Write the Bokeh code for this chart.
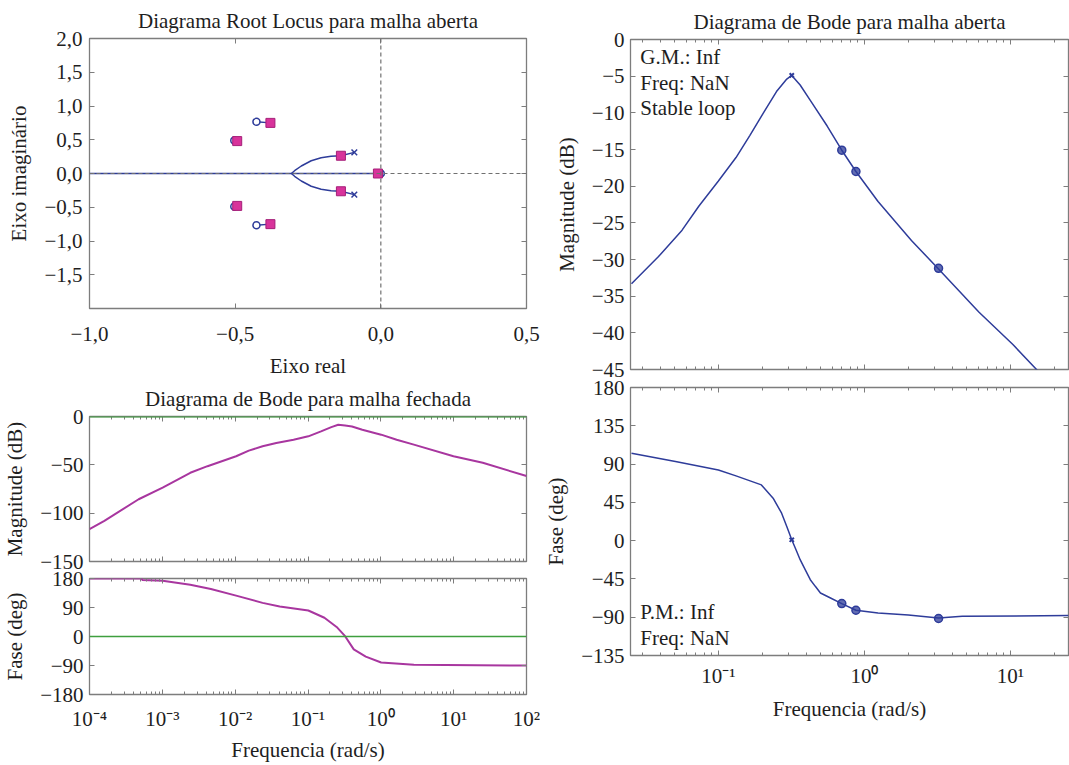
import numpy as np
from bokeh.plotting import figure
from bokeh.layouts import row, column
from bokeh.models import (FixedTicker, CustomJSTickFormatter, BasicTickFormatter,
                          CustomLabelingPolicy, LinearAxis, LogAxis, Span, Label)
from bokeh.embed import file_html
from bokeh.resources import INLINE

FONT = "Liberation Serif"
TXT = "#1e1e1e"
FRAME = "#7d7d7d"
BLUE = "#2e3c9a"
PINK = "#d8339b"
PINK_EDGE = "#a51f78"
CLOSED = "#a8369f"
GREEN = "#3f9f3f"
FS = "21px"

# ---------------- Root locus (open loop) ----------------
# upper complex branch, from the open-loop pole towards the break-in point
locus_re = [-0.091, -0.137, -0.171, -0.205, -0.239, -0.273, -0.296, -0.307]
locus_im = [0.313, 0.263, 0.254, 0.233, 0.189, 0.111, 0.041, 0.0]
# real-axis branch
real_branch_re = [-1.0, -0.307, 0.0]
real_branch_im = [0.0, 0.0, 0.0]
# open-loop poles (x) and zeros (o)
pole_re = [-0.091, -0.091]
pole_im = [0.313, -0.313]
zero_re = [-0.427, -0.427, -0.503, -0.503, 0.0]
zero_im = [0.765, -0.765, 0.49, -0.49, 0.0]
# closed-loop poles (squares)
cl_pole_re = [-0.137, -0.137, -0.379, -0.379, -0.493, -0.493, -0.01]
cl_pole_im = [0.263, -0.263, 0.75, -0.75, 0.48, -0.48, 0.0]
rl_xticks = [-1.0, -0.5, 0.0, 0.5]
rl_yticks = [-1.5, -1.0, -0.5, 0.0, 0.5, 1.0, 1.5, 2.0]

# ---------------- Open-loop Bode ----------------
ol_w = [0.0254, 0.0389, 0.0564, 0.0736, 0.100, 0.132, 0.164, 0.202, 0.250, 0.294,
        0.318, 0.363, 0.426, 0.556, 0.700, 0.875, 1.24, 2.10, 3.22, 6.10, 10.4, 15.1, 17.0]
ol_mag = [-33.3, -29.6, -26.0, -22.7, -19.3, -16.1, -13.1, -10.1, -7.1, -5.4,
          -4.9, -6.2, -8.3, -11.8, -15.1, -18.0, -22.1, -27.4, -31.3, -37.2, -41.6, -45.0, -46.2]
ol_pw = [0.0254, 0.0508, 0.1, 0.132, 0.197, 0.237, 0.271, 0.294, 0.318, 0.344, 0.363,
         0.393, 0.426, 0.461, 0.500, 0.586, 0.700, 0.875, 1.24, 2.0, 3.22, 4.68, 25.0]
ol_phase = [102.6, 92.9, 83.1, 76.1, 65.5, 49.9, 32.3, 16.7, 1.0, -12.7, -22.4,
            -34.1, -45.9, -53.7, -61.5, -67.4, -74.0, -81.8, -85.0, -87.5, -90.8, -88.9, -88.1]
# highlighted points on the open-loop response
peak_w, peak_mag, peak_phase = [0.318], [-4.9], [1.0]
dot_w = [0.700, 0.875, 3.22]
dot_mag = [-15.1, -18.0, -31.2]
dot_phase = [-74.0, -81.8, -91.5]
ol_mag_ticks = [0, -5, -10, -15, -20, -25, -30, -35, -40, -45]
ol_phase_ticks = [180, 135, 90, 45, 0, -45, -90, -135]
ol_decades = [-1, 0, 1]

# ---------------- Closed-loop Bode ----------------
cl_w = [1e-4, 1.6e-4, 4.73e-4, 1.01e-3, 2.42e-3, 4.17e-3, 1.03e-2, 0.0154, 0.0238,
        0.0367, 0.0633, 0.101, 0.151, 0.209, 0.260, 0.323, 0.402, 0.557, 1.01, 1.65,
        2.84, 9.95, 25.1, 100.0]
cl_mag = [-116.4, -107.9, -85.6, -73.6, -58.2, -51.4, -41.1, -35.3, -30.8,
          -27.4, -24.0, -20.5, -15.4, -11.0, -8.6, -9.2, -10.3, -13.7, -18.8, -24.0,
          -29.1, -41.1, -47.9, -61.6]
cl_pw = [1e-4, 5.2e-4, 5.3e-4, 1.01e-3, 2.42e-3, 4.64e-3, 1.03e-2, 0.0238, 0.0409,
         0.101, 0.168, 0.247, 0.323, 0.425, 0.621, 1.01, 2.84, 100.0]
cl_phase = [180.0, 180.0, 175.5, 172.8, 160.6, 147.3, 126.8, 104.3, 93.1,
            80.8, 58.3, 29.7, 1.0, -39.9, -62.4, -80.8, -88.0, -90.0]
cl_mag_ticks = [0, -50, -100, -150]
cl_phase_ticks = [180, 90, 0, -90, -180]
cl_decades = [-4, -3, -2, -1, 0, 1, 2]


def num_fmt():
    return CustomJSTickFormatter(code="""
        const a = Math.abs(tick);
        return (tick < 0 ? '\\u2212' : '') + String(a);
    """)


def comma_fmt():
    return CustomJSTickFormatter(code="""
        const s = Math.abs(tick).toFixed(1).replace('.', ',');
        return (tick < -1e-9 ? '\\u2212' : '') + s;
    """)


def log_fmt():
    return CustomJSTickFormatter(code="""
        const e = Math.round(Math.log10(tick));
        const m = {'-': '\\u207b', '0': '\\u2070', '1': '\\u00b9', '2': '\\u00b2',
                   '3': '\\u00b3', '4': '\\u2074', '5': '\\u2075', '6': '\\u2076',
                   '7': '\\u2077', '8': '\\u2078', '9': '\\u2079'};
        return '10' + String(e).split('').map(c => m[c]).join('');
    """)


def log_ticker(decades):
    major = [10.0 ** d for d in decades]
    minor = [k * 10.0 ** d for d in range(decades[0] - 2, decades[-1] + 1) for k in range(2, 10)]
    return FixedTicker(ticks=major, minor_ticks=minor)


def tick_style(ax, labels=True):
    ax.axis_line_color = None
    ax.major_tick_in = 5
    ax.major_tick_out = 0
    ax.minor_tick_in = 3
    ax.minor_tick_out = 0
    ax.major_tick_line_color = FRAME
    ax.minor_tick_line_color = FRAME
    ax.major_label_text_font = FONT
    ax.major_label_text_color = TXT
    ax.axis_label_text_font = FONT
    ax.axis_label_text_font_size = FS
    ax.axis_label_text_font_style = "normal"
    ax.axis_label_text_color = TXT
    if labels:
        ax.major_label_text_font_size = FS
    else:
        # tick marks only: no label is kept by the labeling policy
        ax.formatter = BasicTickFormatter()
        ax.major_label_text_font_size = "0px"
        ax.major_label_standoff = 0
        ax.major_label_policy = CustomLabelingPolicy(code="""
            for (const i of Array.from(indices)) indices.unset(i);
            return indices;
        """)


def make_fig(width, height, x_range, y_range, borders, title=None, x_log=False, overlap=0):
    left, right, top, bottom = borders
    p = figure(width=width, height=height, x_range=x_range, y_range=y_range,
               x_axis_type="log" if x_log else "linear",
               output_backend="svg", toolbar_location=None,
               min_border_left=left, min_border_right=right,
               min_border_top=top, min_border_bottom=bottom)
    p.grid.visible = False
    p.outline_line_color = FRAME
    p.outline_line_width = 1.3
    p.background_fill_color = "white"
    if overlap:
        # pull the panel up over the one above; keep its border see-through
        p.margin = (-overlap, 0, 0, 0)
        p.border_fill_color = None
    else:
        p.border_fill_color = "white"
    if title:
        p.title.text = title
        p.title.text_font = FONT
        p.title.text_font_size = FS
        p.title.text_font_style = "normal"
        p.title.text_color = TXT
        p.title.align = "center"
        p.title.text_line_height = 1.0
        p.title.standoff = 12
    return p


def set_axes(p, xticker, yticker, xfmt, yfmt, x_log, xlabel=None, ylabel=None,
             xlabels=True, xticker_m=None, yticker_m=None,
             x_standoff=14, xlabel_standoff=12, y_standoff=6):
    xa = p.xaxis[0]
    ya = p.yaxis[0]
    xa.ticker = xticker
    ya.ticker = yticker
    if xlabels:
        xa.formatter = xfmt
    ya.formatter = yfmt
    tick_style(xa, xlabels)
    tick_style(ya, True)
    if xlabels:
        xa.major_label_standoff = x_standoff
    ya.major_label_standoff = y_standoff
    if xlabel:
        xa.axis_label = xlabel
        xa.axis_label_standoff = xlabel_standoff
    if ylabel:
        ya.axis_label = ylabel
        ya.axis_label_standoff = 10
    # mirrored tick marks on the top and right edges of the box
    top = LogAxis(ticker=xticker_m) if x_log else LinearAxis(ticker=xticker_m)
    right = LinearAxis(ticker=yticker_m)
    for ax in (top, right):
        tick_style(ax, False)
    p.add_layout(top, "above")
    p.add_layout(right, "right")


# ---------- Root locus panel ----------
p_rl = make_fig(540, 386, (-1.0, 0.5), (-2.0, 2.0), (87, 14, 44, 71),
                title="Diagrama Root Locus para malha aberta", overlap=6)
set_axes(p_rl, FixedTicker(ticks=rl_xticks), FixedTicker(ticks=rl_yticks),
         comma_fmt(), comma_fmt(), False, xlabel="Eixo real", ylabel="Eixo imaginário",
         xticker_m=FixedTicker(ticks=rl_xticks), yticker_m=FixedTicker(ticks=rl_yticks),
         x_standoff=18, xlabel_standoff=10, y_standoff=7)
p_rl.add_layout(Span(location=0, dimension="width", line_color="#707070",
                     line_dash="4 3", line_width=1.2))
p_rl.add_layout(Span(location=0, dimension="height", line_color="#707070",
                     line_dash="4 3", line_width=1.2))
p_rl.line(real_branch_re, real_branch_im, line_color=BLUE, line_width=1.5)
p_rl.line(locus_re, locus_im, line_color=BLUE, line_width=1.5)
p_rl.line(locus_re, [-v for v in locus_im], line_color=BLUE, line_width=1.5)
p_rl.segment(x0=cl_pole_re[2:6], y0=cl_pole_im[2:6], x1=zero_re[:4], y1=zero_im[:4],
             line_color=BLUE, line_width=1.5)
p_rl.scatter(zero_re, zero_im, marker="circle", size=7, fill_color="white",
             line_color=BLUE, line_width=1.5)
p_rl.scatter(pole_re, pole_im, marker="x", size=8, line_color=BLUE, line_width=1.5)
p_rl.scatter(cl_pole_re, cl_pole_im, marker="square", size=9, fill_color=PINK,
             line_color=PINK_EDGE, line_width=1)

# ---------- Closed-loop magnitude ----------
p_clm = make_fig(540, 203, (1e-4, 1e2), (-150, 0), (87, 14, 42, 16),
                 title="Diagrama de Bode para malha fechada", x_log=True, overlap=6)
set_axes(p_clm, log_ticker(cl_decades), FixedTicker(ticks=cl_mag_ticks),
         None, num_fmt(), True, ylabel="Magnitude (dB)", xlabels=False,
         xticker_m=log_ticker(cl_decades), yticker_m=FixedTicker(ticks=cl_mag_ticks))
p_clm.add_layout(Span(location=0, dimension="width", line_color=GREEN, line_width=2))
p_clm.line(cl_w, cl_mag, line_color=CLOSED, line_width=2)

# ---------- Closed-loop phase ----------
p_clp = make_fig(540, 204, p_clm.x_range, (-180, 180), (87, 14, 17, 71), x_log=True,
                 overlap=16)
set_axes(p_clp, log_ticker(cl_decades), FixedTicker(ticks=cl_phase_ticks),
         log_fmt(), num_fmt(), True, xlabel="Frequencia (rad/s)", ylabel="Fase (deg)",
         xticker_m=log_ticker(cl_decades), yticker_m=FixedTicker(ticks=cl_phase_ticks),
         x_standoff=12, xlabel_standoff=4)
p_clp.add_layout(Span(location=0, dimension="width", line_color=GREEN, line_width=1.5))
p_clp.line(cl_pw, cl_phase, line_color=CLOSED, line_width=2)

# ---------- Open-loop magnitude ----------
p_olm = make_fig(529, 396, (0.025, 25), (-45, 0), (90, 1, 45, 21),
                 title="Diagrama de Bode para malha aberta", x_log=True, overlap=6)
set_axes(p_olm, log_ticker(ol_decades), FixedTicker(ticks=ol_mag_ticks),
         None, num_fmt(), True, ylabel="Magnitude (dB)", xlabels=False,
         xticker_m=log_ticker(ol_decades), yticker_m=FixedTicker(ticks=ol_mag_ticks))
p_olm.line(ol_w, ol_mag, line_color=BLUE, line_width=1.5)
p_olm.scatter(peak_w, peak_mag, marker="x", size=6, line_color=BLUE, line_width=2)
p_olm.scatter(dot_w, dot_mag, marker="circle", size=8, fill_color=BLUE, fill_alpha=0.75,
              line_color=BLUE, line_width=1.5)
for txt, yv in (("G.M.: Inf", -2.45), ("Freq: NaN", -5.95), ("Stable loop", -9.4)):
    p_olm.add_layout(Label(x=0.0292, y=yv, text=txt, text_font=FONT, text_font_size=FS,
                           text_color=TXT, text_baseline="middle"))

# ---------- Open-loop phase ----------
p_olp = make_fig(529, 396, p_olm.x_range, (-135, 180), (90, 1, 18, 110), x_log=True,
                 overlap=21)
set_axes(p_olp, log_ticker(ol_decades), FixedTicker(ticks=ol_phase_ticks),
         log_fmt(), num_fmt(), True, xlabel="Frequencia (rad/s)", ylabel="Fase (deg)",
         xticker_m=log_ticker(ol_decades), yticker_m=FixedTicker(ticks=ol_phase_ticks),
         x_standoff=8, xlabel_standoff=6)
p_olp.line(ol_pw, ol_phase, line_color=BLUE, line_width=1.5)
p_olp.scatter(peak_w, peak_phase, marker="x", size=6, line_color=BLUE, line_width=2)
p_olp.scatter(dot_w, dot_phase, marker="circle", size=8, fill_color=BLUE, fill_alpha=0.75,
              line_color=BLUE, line_width=1.5)
for txt, yv in (("P.M.: Inf", -84.2), ("Freq: NaN", -114.3)):
    p_olp.add_layout(Label(x=0.0292, y=yv, text=txt, text_font=FONT, text_font_size=FS,
                           text_color=TXT, text_baseline="middle"))

layout = row(column(p_rl, p_clm, p_clp), column(p_olm, p_olp))
open("out.html", "w").write(file_html(layout, INLINE))
